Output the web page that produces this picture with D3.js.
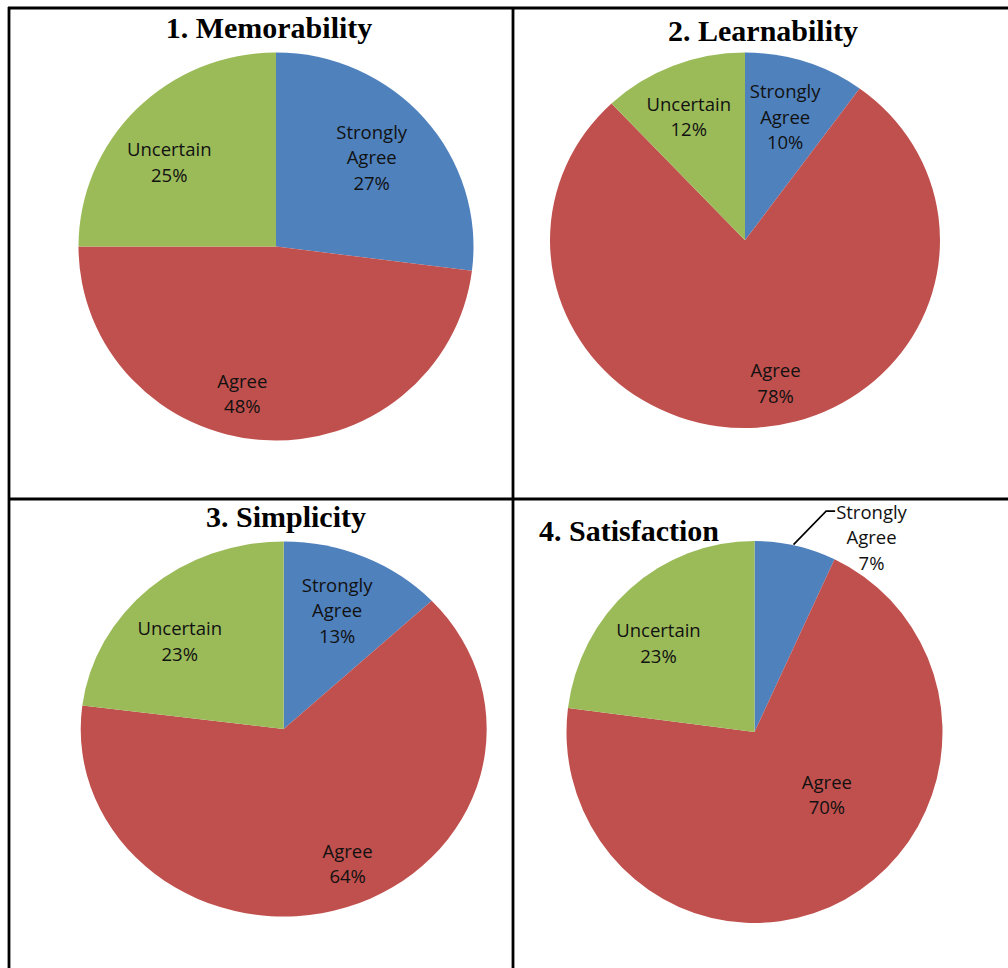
<!DOCTYPE html>
<html>
<head>
<meta charset="utf-8">
<script src="https://cdn.jsdelivr.net/npm/d3@7"></script>
<style>
  html, body { margin: 0; padding: 0; background: #fff; }
  svg { display: block; }
</style>
</head>
<body>
<svg id="chart" width="1008" height="968"></svg>
<script>
// Survey responses per usability criterion
const categories = ["Strongly Agree", "Agree", "Uncertain"];
const titles = ["1. Memorability", "2. Learnability", "3. Simplicity", "4. Satisfaction"];
const memorability = [27, 48, 25];
const learnability = [10, 78, 12];
const simplicity = [13, 64, 23];
const satisfaction = [7, 70, 23];
const seriesValues = [memorability, learnability, simplicity, satisfaction];
const colors = ["#4F81BD", "#C0504D", "#9BBB59"];

// Panel layout: pie centre, horizontal / vertical radii, title anchor
const panels = [
  { cx: 276,   cy: 246.5, rx: 197.5, ry: 194,   tx: 269, ty: 38 },
  { cx: 745,   cy: 240.3, rx: 195,   ry: 187.7, tx: 763, ty: 41 },
  { cx: 283.7, cy: 729,   rx: 203,   ry: 187.5, tx: 286, ty: 527 },
  { cx: 754.5, cy: 732,   rx: 188,   ry: 191,   tx: 629, ty: 541 }
];
// Label placement tweaks (px) applied after centring on the slice
const labelNudge = [
  [[-8, 0], [-25, 11], [-9, 11]],
  [[-2, 1], [22, 11], [-6, -2]],
  [[-3, 1], [20, 9], [-10, 10]],
  [[76, -9], [9, -55], [-9, 11]]
];
// Slices whose label sits outside with a leader line
const outsideLabel = [[false, false, false], [false, false, false], [false, false, false], [true, false, false]];

const svg = d3.select("#chart");
const lineH = 25.5;
const labelFrac = 0.7;

const pie = d3.pie().sort(null).value(d => d.value);

seriesValues.forEach((vals, i) => {
  const p = panels[i];
  const data = categories.map((c, k) => ({ category: c, value: vals[k], idx: k }));
  const arcs = pie(data);
  const arc = d3.arc().innerRadius(0).outerRadius(p.rx);

  const g = svg.append("g");
  g.append("g")
    .attr("transform", `translate(${p.cx},${p.cy}) scale(1,${p.ry / p.rx})`)
    .selectAll("path")
    .data(arcs)
    .join("path")
    .attr("d", arc)
    .attr("fill", d => colors[d.data.idx]);

  g.append("text")
    .attr("x", p.tx)
    .attr("y", p.ty)
    .attr("text-anchor", "middle")
    .attr("font-family", "'Liberation Serif', 'Times New Roman', serif")
    .attr("font-weight", "bold")
    .attr("font-size", 30)
    .attr("fill", "#000")
    .text(titles[i]);

  arcs.forEach(a => {
    const k = a.data.idx;
    const mid = (a.startAngle + a.endAngle) / 2;
    const outside = outsideLabel[i][k];
    const f = outside ? 1 : labelFrac;
    const px = p.cx + p.rx * f * Math.sin(mid);
    const py = p.cy - p.ry * f * Math.cos(mid);
    const [nx, ny] = labelNudge[i][k];
    const lx = px + nx, ly = py + ny;
    const words = a.data.category === "Strongly Agree" ? ["Strongly", "Agree"] : [a.data.category];
    const lines = words.concat([a.data.value + "%"]);
    const t = g.append("text")
      .attr("text-anchor", "middle")
      .attr("font-family", "'Open Sans', sans-serif")
      .attr("font-size", 18.5)
      .attr("fill", "#111");
    lines.forEach((ln, j) => {
      t.append("tspan")
        .attr("x", lx)
        .attr("y", ly + (j - (lines.length - 1) / 2) * lineH)
        .attr("dominant-baseline", "central")
        .text(ln);
    });
    if (outside) {
      const first = t.select("tspan").node();
      const w = first.getComputedTextLength();
      const ey = ly - (lines.length - 1) / 2 * lineH;
      const ex = lx - w / 2 - 1;
      g.append("polyline")
        .attr("points", [[px - 2, py - 1], [ex - 9, ey], [ex, ey]].map(q => q.join(",")).join(" "))
        .attr("fill", "none")
        .attr("stroke", "#000")
        .attr("stroke-width", 1.6);
    }
  });
});

// Table frame
const frame = svg.append("g").attr("stroke", "#000").attr("stroke-width", 2.8);
frame.append("line").attr("x1", 8).attr("x2", 1008).attr("y1", 8).attr("y2", 8);
frame.append("line").attr("x1", 9).attr("x2", 9).attr("y1", 7).attr("y2", 968);
frame.append("line").attr("x1", 513).attr("x2", 513).attr("y1", 7).attr("y2", 968);
frame.append("line").attr("x1", 8).attr("x2", 1008).attr("y1", 499).attr("y2", 499);
</script>
</body>
</html>
